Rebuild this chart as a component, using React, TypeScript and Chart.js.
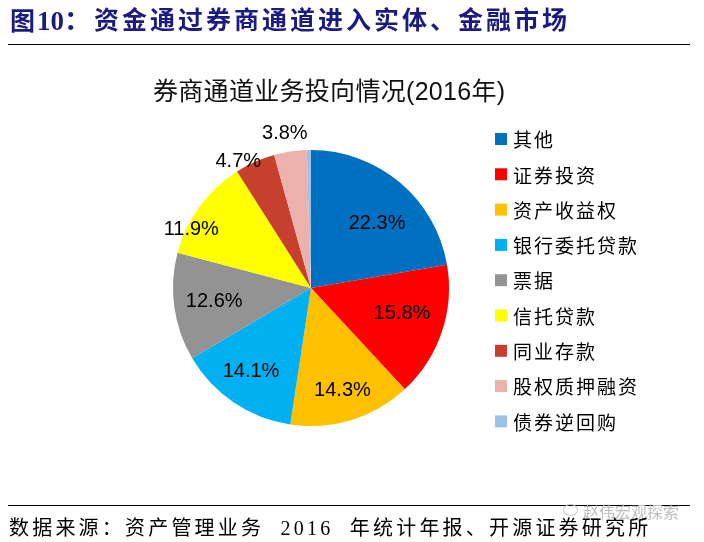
import React, { useEffect, useRef } from "react";
import { Chart, registerables } from "chart.js";

Chart.register(...registerables);

const pageTitleFig = "图";
const pageTitleNum = "10：";
const pageTitleRest = "资金通过券商通道进入实体、金融市场";
const chartTitle = "券商通道业务投向情况(2016年)";
const sourceNote = "数据来源：资产管理业务  2016  年统计年报、开源证券研究所";
const watermark = "赵伟宏观探索";

const categories = [
  "其他",
  "证券投资",
  "资产收益权",
  "银行委托贷款",
  "票据",
  "信托贷款",
  "同业存款",
  "股权质押融资",
  "债券逆回购",
];
const shares = [22.3, 15.8, 14.3, 14.1, 12.6, 11.9, 4.7, 3.8, 0.5];
const sliceColors = [
  "#0070C0",
  "#FF0000",
  "#FFC000",
  "#00B0F0",
  "#939393",
  "#FFFF00",
  "#C7402D",
  "#EBB2AC",
  "#9DC2E7",
];
// [radius factor, angle offset in degrees] for each value label; null = no label
const labelPlacement: ([number, number] | null)[] = [
  [0.67, 5.5],
  [0.684, -3.2],
  [0.775, 0],
  [0.746, 1.6],
  [0.708, 0],
  [0.967, -10],
  [1.056, -6],
  [1.133, -1],
  null,
];

const valueLabelsPlugin = {
  id: "valueLabels",
  afterDatasetsDraw(chart: any) {
    const ctx = chart.ctx;
    const meta = chart.getDatasetMeta(0);
    ctx.save();
    ctx.font = '20px "Liberation Sans", Arial, sans-serif';
    ctx.fillStyle = "#000";
    ctx.textAlign = "center";
    ctx.textBaseline = "middle";
    meta.data.forEach((arc: any, i: number) => {
      const p = labelPlacement[i];
      if (!p) return;
      const { x, y, startAngle, endAngle, outerRadius } = arc.getProps(
        ["x", "y", "startAngle", "endAngle", "outerRadius"],
        true
      );
      const a = (startAngle + endAngle) / 2 + (p[1] * Math.PI) / 180;
      const r = outerRadius * p[0];
      const v = chart.data.datasets[0].data[i] as number;
      ctx.fillText(v.toFixed(1) + "%", x + r * Math.cos(a), y + r * Math.sin(a));
    });
    ctx.restore();
  },
};

const titleLegendPlugin = {
  id: "titleLegend",
  afterDraw(chart: any) {
    const ctx = chart.ctx;
    ctx.save();
    // chart title
    ctx.font = '25px "Liberation Sans", "Noto Sans CJK SC", sans-serif';
    ctx.fillStyle = "#111";
    ctx.textAlign = "left";
    ctx.textBaseline = "middle";
    try {
      (ctx as any).letterSpacing = "0.3px";
    } catch (e) {}
    ctx.fillText(chartTitle, 153, 93);
    // legend
    const labels: string[] = chart.data.labels;
    const colors: string[] = chart.data.datasets[0].backgroundColor;
    ctx.font = '19px "Noto Sans CJK SC", sans-serif';
    try {
      (ctx as any).letterSpacing = "2px";
    } catch (e) {}
    labels.forEach((lab, i) => {
      const cy = 139 + i * 35.3;
      ctx.fillStyle = colors[i];
      ctx.fillRect(495, cy - 6, 12, 12);
      ctx.fillStyle = "#000";
      ctx.fillText(lab, 513, cy + 1);
    });
    ctx.restore();
  },
};

export default function App() {
  const canvasRef = useRef<HTMLCanvasElement | null>(null);

  useEffect(() => {
    if (!canvasRef.current) return;
    const chart = new Chart(canvasRef.current, {
      type: "pie",
      data: {
        labels: categories,
        datasets: [
          {
            data: shares,
            backgroundColor: sliceColors,
            borderWidth: 0,
          },
        ],
      },
      options: {
        responsive: false,
        animation: false,
        devicePixelRatio: 1,
        events: [],
        layout: { padding: { left: 173, top: 150, right: 255, bottom: 116 } },
        plugins: {
          legend: { display: false },
          tooltip: { enabled: false },
          title: { display: false },
        },
      },
      plugins: [valueLabelsPlugin, titleLegendPlugin],
    } as any);
    return () => chart.destroy();
  }, []);

  const serifCJK = '"Liberation Serif", "Noto Sans CJK SC", serif';

  return (
    <div
      style={{
        position: "absolute",
        left: 0,
        top: 0,
        width: 704,
        height: 542,
        background: "#fff",
        overflow: "hidden",
      }}
    >
      <canvas
        ref={canvasRef}
        width={704}
        height={542}
        style={{ position: "absolute", left: 0, top: 0, width: 704, height: 542 }}
      />
      <div
        style={{
          position: "absolute",
          left: 10,
          top: 7,
          fontFamily: serifCJK,
          fontWeight: "bold",
          fontSize: 25,
          lineHeight: "28px",
          color: "#1b1b80",
          whiteSpace: "nowrap",
        }}
      >
        {pageTitleFig}
        <span style={{ fontSize: 27, marginLeft: 2 }}>{pageTitleNum}</span>
      </div>
      <div
        style={{
          position: "absolute",
          left: 94,
          top: 7,
          fontFamily: serifCJK,
          fontWeight: "bold",
          fontSize: 25,
          lineHeight: "28px",
          letterSpacing: 3,
          color: "#1b1b80",
          whiteSpace: "nowrap",
        }}
      >
        {pageTitleRest}
      </div>
      <div
        style={{
          position: "absolute",
          left: 8,
          top: 44,
          width: 682,
          height: 0,
          borderTop: "1.5px solid #000",
        }}
      />
      <div
        style={{
          position: "absolute",
          left: 8,
          top: 505,
          width: 682,
          height: 0,
          borderTop: "1.5px solid #000",
        }}
      />
      <div
        style={{
          position: "absolute",
          left: 563,
          top: 504,
          width: 13,
          height: 10,
          border: "1px solid #c8c8c8",
          borderRadius: "50%",
        }}
      />
      <div
        style={{
          position: "absolute",
          left: 583,
          top: 501,
          fontFamily: '"Noto Sans CJK SC", sans-serif',
          fontSize: 16,
          lineHeight: "20px",
          color: "#bdbdbd",
          whiteSpace: "nowrap",
        }}
      >
        {watermark}
      </div>
      <div
        style={{
          position: "absolute",
          left: 9,
          top: 516,
          fontFamily: serifCJK,
          fontSize: 20,
          lineHeight: "24px",
          letterSpacing: 3.2,
          color: "#000",
          whiteSpace: "pre",
        }}
      >
        {sourceNote}
      </div>
    </div>
  );
}
